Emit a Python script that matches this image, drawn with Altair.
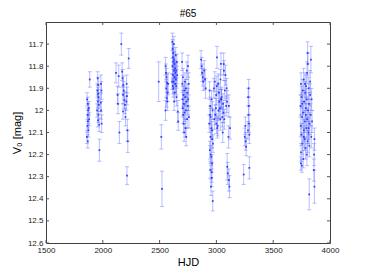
import altair as alt
import pandas as pd

# ---- data (HJD, V0 magnitude, 1-sigma error) ----
hjd = [
    # ~1850-1900
    1885, 1862, 1868, 1872, 1866, 1870, 1864, 1874, 1860, 1868, 1878, 1880,
    # ~1950-1990
    1955, 1960, 1952, 1958, 1963, 1956, 1965, 1950, 1962, 1957, 1968, 1970,
    1984, 1988, 1982, 1986, 1990,
    # ~2110-2230
    2116, 2140, 2163, 2130, 2134, 2146, 2170, 2175, 2180, 2185, 2178, 2190,
    2195, 2178, 2228, 2210, 2213, 2208, 2216, 2220, 2213, 2200,
    # ~2490-2760
    2492, 2515, 2521, 2553, 2556, 2560, 2566, 2558, 2570, 2562, 2568, 2552, 2575,
    2612, 2615, 2620, 2625, 2618, 2628, 2622, 2632, 2614, 2636, 2626, 2640,
    2618, 2630, 2644, 2624, 2638, 2648, 2620, 2634, 2650, 2628, 2642, 2652,
    2646, 2655, 2660, 2664, 2610, 2616,
    2698, 2740, 2706, 2724, 2700, 2732, 2718, 2744, 2710, 2726, 2702, 2736,
    2714, 2748, 2704, 2730, 2720, 2708, 2742, 2712, 2728, 2716, 2734, 2750,
    2756, 2752, 2758,
    # ~2860-3125
    2865, 2870, 2875, 2880, 2885, 2893, 2900, 2905, 2940, 2958, 2945, 2966,
    2950, 2938, 2962, 2948, 2970, 2942, 2955, 2964, 2946, 2960, 2952, 2968,
    2944, 2956, 2962, 2950, 2958,
    2978, 3040, 2996, 3070, 2986, 3022, 3058, 2990, 3012, 3080, 3004, 3046,
    3030, 2982, 3066, 3016, 2998, 3086, 3052, 3008, 3036, 3074, 3026, 3062,
    3000, 3090, 3044, 3018, 3056, 3094, 3034, 3106, 3110, 3095, 3100, 3110,
    3115, 3120, 3005, 3040, 3064,
    # ~3240-3290
    3284, 3280, 3286, 3282, 3288, 3278, 3290, 3255, 3250, 3258, 3262, 3240, 3290,
    # ~3740-3865
    3803, 3832, 3805, 3798, 3768, 3745, 3790, 3812, 3760, 3782, 3825, 3750,
    3795, 3772, 3815, 3740, 3786, 3808, 3764, 3830, 3755, 3800, 3778, 3820,
    3742, 3792, 3768, 3810, 3748, 3835, 3776, 3802, 3758, 3818, 3785, 3745,
    3797, 3765, 3744, 3752, 3863, 3860, 3858, 3863, 3817, 3825, 3838, 3842,
    3780, 3788, 3770, 3755, 3812,
]

v0 = [
    11.86, 11.95, 11.97, 12.00, 12.02, 12.05, 12.07, 12.09, 12.12, 12.14, 11.99, 12.04,
    11.855, 11.885, 11.91, 11.925, 11.94, 11.96, 11.975, 12.00, 12.02, 12.045, 12.065, 12.18,
    11.88, 11.91, 11.965, 12.00, 12.06,
    11.83, 11.845, 11.70, 11.93, 11.97, 12.10, 11.825, 11.855, 11.885, 11.91, 11.93, 11.955,
    11.975, 12.005, 11.765, 11.88, 11.935, 11.96, 12.09, 12.14, 12.295, 12.03,
    11.87, 12.12, 12.355, 11.80, 11.83, 11.85, 11.875, 11.90, 11.92, 11.945, 11.96, 12.00, 11.88,
    11.69, 11.72, 11.74, 11.70, 11.76, 11.77, 11.78, 11.79, 11.80, 11.81, 11.82, 11.83,
    11.84, 11.85, 11.86, 11.87, 11.88, 11.89, 11.90, 11.92, 11.94, 11.96, 11.75, 11.78,
    11.82, 11.84, 12.005, 12.05, 11.87, 11.89,
    11.78, 11.82, 11.85, 11.87, 11.88, 11.90, 11.91, 11.92, 11.93, 11.94, 11.95, 11.96,
    11.97, 11.98, 11.99, 12.00, 12.01, 12.02, 12.04, 12.06, 12.08, 12.10, 12.12, 11.80,
    11.88, 11.95, 12.03,
    11.77, 11.80, 11.83, 11.85, 11.87, 11.82, 11.86, 11.90, 11.91, 11.95, 11.98, 12.00,
    12.03, 12.06, 12.09, 12.12, 12.15, 12.18, 12.21, 12.24, 12.27, 12.305, 12.345, 12.41,
    12.02, 12.08, 12.13, 12.20, 12.28,
    11.90, 11.95, 11.99, 12.04, 11.87, 11.92, 11.97, 12.02, 12.07, 11.84, 11.89, 11.94,
    11.99, 12.04, 11.82, 11.88, 11.93, 11.98, 12.03, 12.08, 11.86, 11.91, 11.96, 12.01,
    12.06, 11.90, 11.95, 12.00, 12.10, 11.96, 12.04, 12.12, 11.98, 12.255, 12.285, 12.315,
    12.345, 12.08, 11.76, 11.79, 11.79,
    11.90, 11.94, 11.98, 12.02, 12.06, 12.09, 12.11, 12.07, 12.12, 12.14, 12.165, 12.29, 12.26,
    11.74, 11.77, 11.79, 11.83, 11.86, 11.88, 11.89, 11.90, 11.91, 11.92, 11.93, 11.94,
    11.95, 11.96, 11.97, 11.98, 11.99, 12.00, 12.01, 12.02, 12.03, 12.04, 12.05, 12.06,
    12.07, 12.08, 12.09, 12.10, 12.11, 12.12, 12.13, 12.14, 12.15, 12.16, 12.17, 12.19,
    12.20, 12.22, 12.24, 12.25, 12.13, 12.20, 12.27, 12.345, 12.38, 11.87, 11.95, 12.05,
    11.88, 12.02, 12.12, 11.97, 12.08,
]

err = [
    0.035, 0.03, 0.03, 0.03, 0.03, 0.03, 0.03, 0.03, 0.03, 0.03, 0.03, 0.03,
    0.03, 0.035, 0.03, 0.03, 0.035, 0.03, 0.03, 0.03, 0.035, 0.03, 0.03, 0.05,
    0.04, 0.04, 0.04, 0.04, 0.04,
    0.045, 0.05, 0.05, 0.04, 0.045, 0.05, 0.04, 0.04, 0.04, 0.04, 0.04, 0.04,
    0.04, 0.035, 0.045, 0.04, 0.04, 0.04, 0.05, 0.05, 0.04, 0.04,
    0.09, 0.055, 0.08, 0.04, 0.04, 0.04, 0.04, 0.04, 0.04, 0.04, 0.04, 0.045, 0.05,
    0.04, 0.04, 0.04, 0.035, 0.035, 0.035, 0.035, 0.035, 0.035, 0.035, 0.035, 0.035,
    0.035, 0.035, 0.035, 0.035, 0.035, 0.04, 0.04, 0.04, 0.04, 0.04, 0.035, 0.035,
    0.035, 0.04, 0.05, 0.04, 0.035, 0.035,
    0.04, 0.04, 0.04, 0.04, 0.04, 0.04, 0.04, 0.04, 0.04, 0.04, 0.04, 0.04,
    0.04, 0.04, 0.04, 0.04, 0.04, 0.04, 0.04, 0.04, 0.04, 0.04, 0.04, 0.05,
    0.05, 0.05, 0.05,
    0.04, 0.04, 0.04, 0.04, 0.04, 0.045, 0.045, 0.045, 0.04, 0.04, 0.04, 0.04,
    0.04, 0.04, 0.04, 0.04, 0.04, 0.04, 0.04, 0.04, 0.04, 0.04, 0.04, 0.045,
    0.04, 0.04, 0.04, 0.04, 0.045,
    0.045, 0.045, 0.045, 0.045, 0.045, 0.045, 0.045, 0.045, 0.045, 0.045, 0.045, 0.045,
    0.045, 0.045, 0.045, 0.045, 0.045, 0.045, 0.045, 0.045, 0.045, 0.045, 0.045, 0.045,
    0.045, 0.045, 0.045, 0.045, 0.045, 0.05, 0.05, 0.05, 0.05, 0.06, 0.05, 0.05,
    0.05, 0.05, 0.05, 0.05, 0.05,
    0.04, 0.04, 0.04, 0.04, 0.04, 0.04, 0.04, 0.04, 0.04, 0.04, 0.04, 0.045, 0.05,
    0.05, 0.06, 0.05, 0.05, 0.05, 0.05, 0.05, 0.05, 0.05, 0.05, 0.05, 0.05,
    0.05, 0.05, 0.05, 0.05, 0.05, 0.05, 0.05, 0.05, 0.05, 0.05, 0.05, 0.05,
    0.05, 0.05, 0.05, 0.05, 0.05, 0.05, 0.05, 0.05, 0.05, 0.05, 0.05, 0.04,
    0.05, 0.04, 0.03, 0.03, 0.05, 0.05, 0.05, 0.075, 0.07, 0.05, 0.05, 0.05,
    0.05, 0.05, 0.05, 0.05, 0.05,
]

x_ticks = [1500, 2000, 2500, 3000, 3500, 4000]
y_ticks = [11.7, 11.8, 11.9, 12.0, 12.1, 12.2, 12.3, 12.4, 12.5, 12.6]

W, H = 284, 221
FONT = "Liberation Sans"
XT = "HJD"
YT = "V\u2080 [mag]"

df = pd.DataFrame({"hjd": hjd, "v0": v0, "err": err})
df["lo"] = df["v0"] - df["err"]
df["hi"] = df["v0"] + df["err"]

xs = alt.Scale(domain=[1500, 4000], nice=False, zero=False)
ys = alt.Scale(domain=[11.6, 12.6], nice=False, zero=False, reverse=True)

x_axis = alt.Axis(values=x_ticks, title=XT, format="d", ticks=False,
                  domain=False, grid=False, labelPadding=3, labelOverlap=False,
                  labelFlush=False, titlePadding=2)
y_axis = alt.Axis(values=y_ticks, title=YT, format="~f", ticks=False,
                  domain=False, grid=False, labelPadding=3, titlePadding=5,
                  labelOverlap=False, labelFlush=False)


def X(field):
    return alt.X(field, type="quantitative", scale=xs, axis=x_axis, title=XT)


def Y(field):
    return alt.Y(field, type="quantitative", scale=ys, axis=y_axis, title=YT)


BAR = "#5a68ff"
base = alt.Chart(df)

bars = base.mark_rule(color=BAR, opacity=0.42, strokeWidth=1).encode(
    x=X("hjd"), y=Y("lo"), y2="hi:Q",
)
cap_lo = base.mark_tick(color=BAR, opacity=0.42, orient="horizontal", size=4,
                        thickness=1).encode(x=X("hjd"), y=Y("lo"))
cap_hi = base.mark_tick(color=BAR, opacity=0.42, orient="horizontal", size=4,
                        thickness=1).encode(x=X("hjd"), y=Y("hi"))
pts = base.mark_square(color="#1f2dff", opacity=0.9, size=3).encode(
    x=X("hjd"), y=Y("v0"),
)

xt = alt.Chart(pd.DataFrame({"t": x_ticks}))
yt = alt.Chart(pd.DataFrame({"t": y_ticks}))
TICK = "#555555"
bt = xt.mark_rule(color=TICK).encode(x=X("t"), y=alt.value(H - 3), y2=alt.value(H))
tt = xt.mark_rule(color=TICK).encode(x=X("t"), y=alt.value(0), y2=alt.value(3))
lt = yt.mark_rule(color=TICK).encode(y=Y("t"), x=alt.value(0), x2=alt.value(3))
rt = yt.mark_rule(color=TICK).encode(y=Y("t"), x=alt.value(W - 3), x2=alt.value(W))

chart = alt.layer(bars, cap_lo, cap_hi, pts, bt, tt, lt, rt).properties(
    width=W, height=H,
    padding={"left": 3, "top": 0, "right": 5, "bottom": 5},
    title=alt.TitleParams("#65", fontSize=10, fontWeight="normal", font=FONT,
                          color="black", offset=3),
).configure_view(stroke="#404040", strokeWidth=1).configure_axis(
    labelFont=FONT, labelFontSize=8, labelColor="#222222", labelOverlap=False,
    labelSeparation=0,
    titleFont=FONT, titleFontSize=11, titleFontWeight="normal", titleColor="black",
)

chart.save("out.html", embed_options={"renderer": "svg", "actions": False})
